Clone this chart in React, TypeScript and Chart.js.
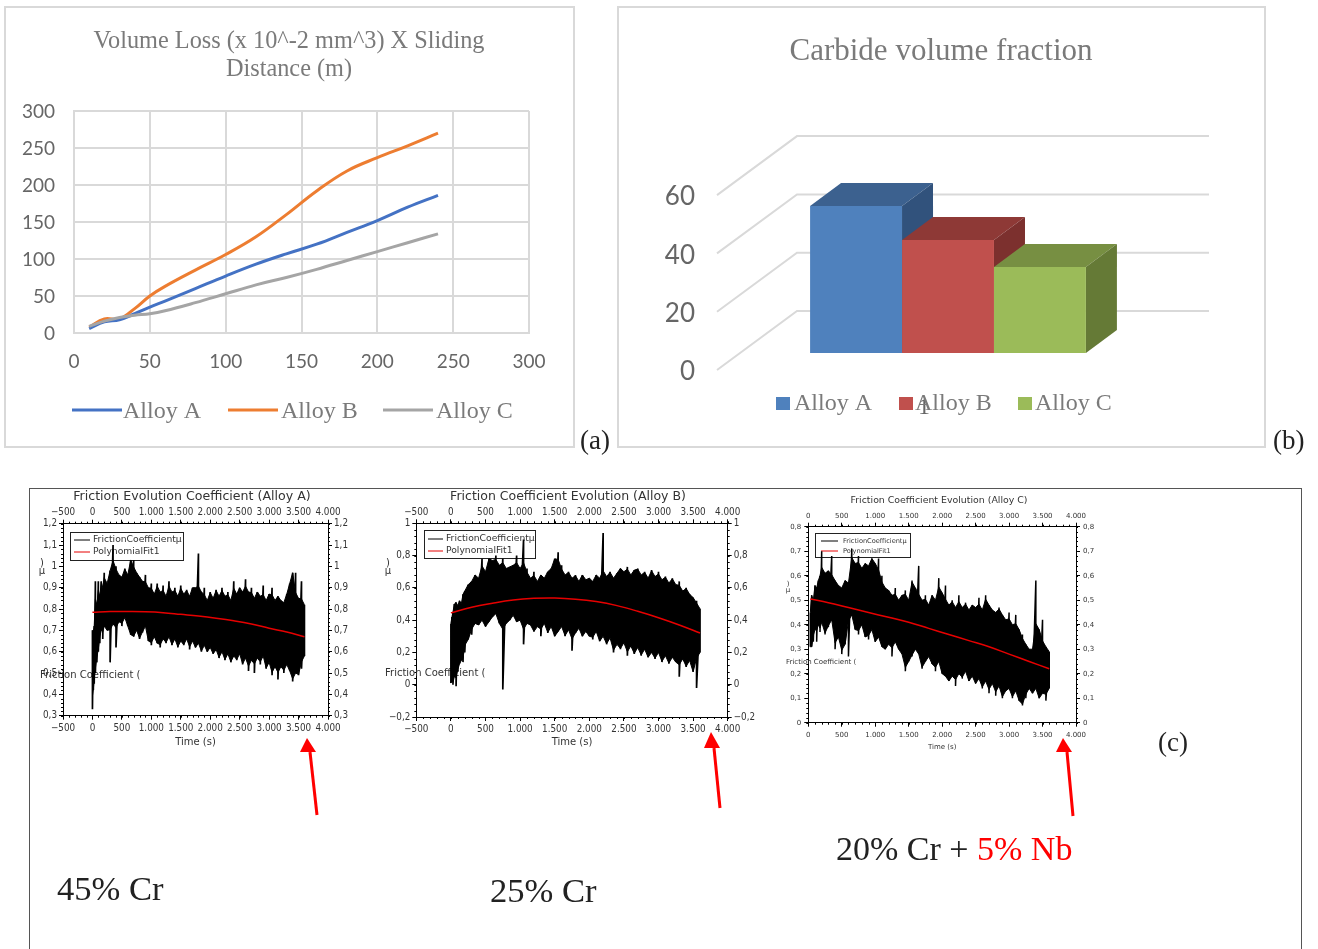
import React, { useEffect, useRef } from "react";
import { Chart, registerables } from "chart.js";
Chart.register(...registerables);

// ---------- (a) volume loss ----------
const distance = [10, 20, 30, 40, 50, 60, 80, 100, 120, 140, 160, 180, 200, 220, 240];
const lossA = [6, 15, 18, 26, 35, 43, 60, 77, 93, 107, 120, 136, 152, 170, 186];
const lossB = [8, 19, 19, 33, 50, 63, 85, 106, 130, 160, 192, 219, 237, 253, 270];
const lossC = [9, 16, 21, 24, 26, 30, 41, 53, 65, 75, 86, 98, 110, 122, 134];

// ---------- (b) carbide fraction ----------
const carbideCategory = ["1"];
const carbideNames = ["Alloy A", "Alloy B", "Alloy C"];
const carbideValues = [50.4, 38.8, 29.5];
const carbideTicks = [0, 20, 40, 60];

// ---------- (c) friction: upper and lower envelope ----------
const frictionTimes = [
  0, 15, 30, 50, 75, 100, 125, 150, 175, 200,
  250, 300, 350, 400, 450, 500, 550, 600, 650, 700,
  750, 800, 850, 900, 950, 1000, 1050, 1100, 1150, 1200,
  1250, 1300, 1350, 1400, 1450, 1500, 1550, 1600, 1650, 1700,
  1750, 1800, 1850, 1900, 1950, 2000, 2050, 2100, 2150, 2200,
  2250, 2300, 2350, 2400, 2450, 2500, 2550, 2600, 2650, 2700,
  2750, 2800, 2850, 2900, 2950, 3000, 3050, 3100, 3150, 3200,
  3250, 3300, 3350, 3400, 3450, 3500, 3550, 3600,
];
const frictionTimesC = [
  30, 50, 75, 100, 125, 150, 175, 200,
  250, 300, 350, 400, 450, 500, 550, 600, 650, 700,
  750, 800, 850, 900, 950, 1000, 1050, 1100, 1150, 1200,
  1250, 1300, 1350, 1400, 1450, 1500, 1550, 1600, 1650, 1700,
  1750, 1800, 1850, 1900, 1950, 2000, 2050, 2100, 2150, 2200,
  2250, 2300, 2350, 2400, 2450, 2500, 2550, 2600, 2650, 2700,
  2750, 2800, 2850, 2900, 2950, 3000, 3050, 3100, 3150, 3200,
  3250, 3300, 3350, 3400, 3450, 3500, 3550, 3600,
];
const highA = [
  .70, .69, .72, .93, .82, .93, .86, .93, .90, .97,
  .92, .98, 1.10, 1.0, .96, .95, .99, .96, 1.03, 1.03,
  .97, .95, .93, .96, .90, .92, .87, .92, .88, .91,
  .86, .93, .88, .90, .86, .91, .87, .89, .86, .90,
  .90, 1.06, .88, .90, .84, .88, .85, .89, .86, .90,
  .86, .88, .84, .93, .87, .90, .88, .94, .88, .90,
  .85, .88, .86, .91, .84, .87, .90, .84, .86, .84,
  .83, .87, .92, .97, .97, .85, .93, .82,
];
const lowA = [
  .33, .42, .45, .50, .55, .60, .64, .70, .66, .72,
  .70, .55, .73, .62, .74, .72, .76, .72, .68, .67,
  .70, .66, .69, .72, .65, .63, .67, .64, .62, .66,
  .64, .67, .63, .66, .62, .65, .63, .66, .61, .65,
  .62, .64, .60, .63, .60, .62, .59, .61, .57, .60,
  .56, .59, .55, .58, .56, .59, .54, .57, .51, .56,
  .50, .57, .54, .58, .52, .55, .49, .53, .47, .53,
  .50, .54, .51, .46, .50, .49, .52, .58,
];
const highB = [
  .38, .42, .45, .50, .51, .49, .52, .50, .56, .58,
  .62, .64, .68, .66, .78, .70, .78, .77, .80, .74,
  .78, .72, .73, .74, .80, .72, .90, .72, .66, .70,
  .64, .68, .66, .70, .72, .78, .82, .74, .68, .70,
  .66, .68, .64, .68, .65, .66, .64, .68, .66, .94,
  .67, .70, .66, .69, .72, .70, .73, .68, .71, .72,
  .68, .70, .66, .71, .67, .70, .65, .67, .63, .66,
  .62, .64, .58, .60, .56, .54, .52, .47,
];
const lowB = [
  .01, .03, .00, .05, -.01, .08, .13, .15, .14, .20,
  .28, .31, .38, .37, .40, .36, .39, .42, .44, .38,
  -.03, .38, .40, .43, .39, .40, .25, .38, .37, .33,
  .36, .30, .38, .32, .36, .30, .33, .36, .30, .34,
  .21, .32, .35, .30, .33, .30, .28, .33, .27, .30,
  .25, .29, .20, .25, .22, .26, .18, .24, .19, .23,
  .18, .22, .17, .20, .16, .20, .14, .18, .13, .17,
  .14, .05, .16, .11, .15, .08, -.02, .20,
];
const highC = [
  .45, .52, .50, .56, .55, .58, .60, .70,
  .61, .62, .68, .58, .56, .55, .58, .57, .71, .65,
  .68, .63, .65, .64, .67, .65, .67, .60, .55, .54,
  .52, .55, .50, .52, .54, .50, .58, .55, .64, .50,
  .52, .48, .52, .50, .59, .53, .56, .48, .50, .47,
  .52, .47, .49, .46, .48, .47, .51, .46, .52, .48,
  .46, .45, .47, .44, .42, .45, .40, .44, .38, .36,
  .32, .30, .30, .58, .38, .42, .31, .29,
];
const lowC = [
  .31, .31, .33, .38, .33, .40, .37, .41,
  .36, .39, .42, .30, .35, .28, .32, .27, .44, .38,
  .36, .40, .35, .34, .38, .33, .35, .31, .30, .32,
  .27, .33, .30, .28, .21, .25, .27, .30, .28, .22,
  .25, .27, .24, .21, .25, .20, .19, .17, .19, .15,
  .20, .18, .21, .17, .19, .16, .18, .14, .17, .12,
  .16, .11, .15, .10, .13, .14, .10, .13, .09, .07,
  .10, .14, .12, .14, .10, .12, .09, .14,
];
const fitTimes = [0, 300, 600, 900, 1200, 1500, 1800, 2100, 2400, 2700, 3000, 3300, 3600];
const fitTimesC = [30, 300, 600, 900, 1200, 1500, 1800, 2100, 2400, 2700, 3000, 3300, 3600];
const fitA = [.785, .788, .788, .787, .783, .775, .767, .757, .745, .73, .71, .692, .67];
const fitB = [.445, .48, .505, .525, .535, .537, .53, .515, .49, .455, .415, .37, .32];
const fitC = [.505, .49, .47, .45, .43, .41, .385, .36, .335, .31, .28, .25, .22];

const SERIF = '"Liberation Serif", serif';
const SANS = '"DejaVu Sans", sans-serif';
const SANS_NARROW = '"DejaVu Sans Condensed", "DejaVu Sans", sans-serif';
const LATO = "Lato, sans-serif";

type ChartBuilder = (c: HTMLCanvasElement) => Chart;

function ChartBox(p: { left: number; top: number; width: number; height: number; blur: number; build: ChartBuilder }) {
  const ref = useRef<HTMLCanvasElement>(null);
  useEffect(() => {
    const chart = p.build(ref.current!);
    return () => chart.destroy();
  }, []);
  return (
    <canvas
      ref={ref}
      width={p.width}
      height={p.height}
      style={{ position: "absolute", left: p.left, top: p.top, width: p.width, height: p.height, filter: `blur(${p.blur}px)` }}
    />
  );
}

const ghostAxis = (w: number) => ({
  axis: "y", position: "right",
  ticks: { display: false }, grid: { display: false }, border: { display: false },
  afterFit: (s: any) => { s.width = w; },
});

// ---------- (a) ----------
const A_BOX = { left: 5, top: 7, width: 568, height: 439 };
function buildLoss(canvas: HTMLCanvasElement) {
  const toPairs = (ys: number[]) => distance.map((x, i) => ({ x, y: ys[i] }));
  const legendItems = [
    { label: "Alloy A", color: "#4472c4", from: 72, to: 122, text: 123 },
    { label: "Alloy B", color: "#ed7d31", from: 228, to: 278, text: 281 },
    { label: "Alloy C", color: "#a5a5a5", from: 383, to: 433, text: 436 },
  ];
  const mkSet = (label: string, ys: number[], color: string) => ({
    label, data: toPairs(ys), borderColor: color, borderWidth: 3, pointRadius: 0, tension: 0.4, fill: false,
  });
  return new Chart(canvas, {
    type: "line",
    data: { datasets: [mkSet("Alloy C", lossC, "#a5a5a5"), mkSet("Alloy A", lossA, "#4472c4"), mkSet("Alloy B", lossB, "#ed7d31")] },
    options: {
      responsive: false, animation: false,
      layout: { padding: 0 },
      plugins: {
        legend: { display: false }, tooltip: { enabled: false },
        title: {
          display: true, text: ["Volume Loss (x 10^-2 mm^3) X Sliding", "Distance (m)"], color: "#7a7a7a",
          font: { family: SERIF, size: 24.3, weight: "normal", lineHeight: 28 / 24.3 }, padding: { top: 21, bottom: 27 },
        },
      },
      scales: {
        x: {
          type: "linear", min: 0, max: 300,
          ticks: { stepSize: 50, color: "#666", font: { family: LATO, size: 19 }, padding: 17, maxRotation: 0 },
          grid: { color: "#d9d9d9", lineWidth: 2, drawTicks: false },
          border: { color: "#d9d9d9", width: 2 },
          afterFit: (s: any) => { s.height = 113; },
        },
        y: {
          min: 0, max: 300,
          ticks: { stepSize: 50, color: "#666", font: { family: LATO, size: 19 }, padding: 19, labelOffset: 1 },
          grid: { color: "#d9d9d9", lineWidth: 2, drawTicks: false },
          border: { color: "#d9d9d9", width: 2 },
          afterFit: (s: any) => { s.width = 69; },
        },
        yGhost: ghostAxis(44),
      },
    },
    plugins: [{
      id: "lossLegend",
      afterDraw(chart: any) {
        const c = chart.ctx;
        c.save();
        legendItems.forEach((it) => {
          c.strokeStyle = it.color; c.lineWidth = 3;
          c.beginPath(); c.moveTo(it.from - A_BOX.left, 410 - A_BOX.top); c.lineTo(it.to - A_BOX.left, 410 - A_BOX.top); c.stroke();
          c.fillStyle = "#7a7a7a"; c.font = `24px ${SERIF}`; c.textBaseline = "middle";
          c.fillText(it.label, it.text - A_BOX.left, 411.5 - A_BOX.top);
        });
        c.restore();
      },
    }],
  } as any);
}

// ---------- (b) ----------
const B_BOX = { left: 618, top: 7, width: 646, height: 439 };
const barFaces = [
  { front: "#4f81bd", top: "#3c618f", side: "#31527c" },
  { front: "#c0504d", top: "#8e3936", side: "#7c302e" },
  { front: "#9bbb59", top: "#778f42", side: "#657a36" },
];
function buildCarbide(canvas: HTMLCanvasElement) {
  const depthX = 31, depthY = -23;
  const wallX = 80, wallY = -59, wallEnd = 1209 - B_BOX.left;
  const legendItems = [
    { box: 776, text: 794 }, { box: 899, text: 915 }, { box: 1018, text: 1035 },
  ];
  return new Chart(canvas, {
    type: "bar",
    data: {
      labels: carbideCategory,
      datasets: carbideNames.map((name, i) => ({
        label: name, data: [carbideValues[i]], backgroundColor: barFaces[i].front,
        yAxisID: "yBar", barPercentage: 1, categoryPercentage: 0.597, borderWidth: 0,
      })),
    },
    options: {
      responsive: false, animation: false,
      layout: { padding: 0 },
      plugins: {
        legend: { display: false }, tooltip: { enabled: false },
        title: {
          display: true, text: "Carbide volume fraction", color: "#7a7a7a",
          font: { family: SERIF, size: 31, weight: "normal", lineHeight: 37 / 31 }, padding: { top: 26, bottom: 66.8 },
        },
      },
      scales: {
        x: {
          ticks: { color: "#666", font: { family: SERIF, size: 24 }, padding: 15, labelOffset: -24 },
          grid: { display: false }, border: { display: false },
          afterFit: (s: any) => { s.height = 76; },
        },
        yLabel: {
          type: "linear", axis: "y", position: "left", min: 0, max: 80,
          ticks: { autoSkip: false, color: "#666", font: { family: LATO, size: 26 }, padding: 14, labelOffset: 2 },
          afterBuildTicks: (s: any) => { s.ticks = carbideTicks.map((value) => ({ value })); },
          grid: { display: false }, border: { display: false },
          afterFit: (s: any) => { s.width = 99; },
        },
        yBar: { type: "linear", axis: "y", display: false, min: -5.83, max: 74.17 },
        yGhost: ghostAxis(85),
      },
    },
    plugins: [{
      id: "depth",
      beforeDatasetsDraw(chart: any) {
        const c = chart.ctx;
        const scale = chart.scales.yLabel;
        const left = chart.chartArea.left;
        c.save();
        c.strokeStyle = "#d9d9d9"; c.lineWidth = 2;
        carbideTicks.forEach((v) => {
          const py = scale.getPixelForValue(v);
          c.beginPath(); c.moveTo(left, py); c.lineTo(left + wallX, py + wallY); c.lineTo(wallEnd, py + wallY); c.stroke();
        });
        carbideNames.forEach((_, i) => {
          const bar = chart.getDatasetMeta(i).data[0];
          const half = bar.width / 2, l = bar.x - half, r = bar.x + half, t = bar.y, b = bar.base;
          c.fillStyle = barFaces[i].top;
          c.beginPath(); c.moveTo(l, t); c.lineTo(r, t); c.lineTo(r + depthX, t + depthY); c.lineTo(l + depthX, t + depthY); c.closePath(); c.fill();
          c.fillStyle = barFaces[i].side;
          c.beginPath(); c.moveTo(r, t); c.lineTo(r + depthX, t + depthY); c.lineTo(r + depthX, b + depthY); c.lineTo(r, b); c.closePath(); c.fill();
        });
        c.restore();
      },
      afterDraw(chart: any) {
        const c = chart.ctx;
        c.save();
        legendItems.forEach((it, i) => {
          c.fillStyle = barFaces[i].front;
          c.fillRect(it.box - B_BOX.left, 397 - B_BOX.top, 14, 13);
          c.fillStyle = "#7a7a7a"; c.font = `24px ${SERIF}`; c.textBaseline = "middle";
          c.fillText(carbideNames[i], it.text - B_BOX.left, 404 - B_BOX.top);
        });
        c.restore();
      },
    }],
  } as any);
}

// ---------- (c) ----------
const fmtX = (v: number) => {
  const a = Math.abs(v);
  const s = a >= 1000 ? `${Math.floor(a / 1000)}.${String(a % 1000).padStart(3, "0")}` : String(a);
  return v < 0 ? "\u2212" + s : s;
};
const fmtY = (v: number) => {
  const s = String(Number(Math.abs(v).toFixed(1))).replace(".", ",");
  return v < -0.001 ? "\u2212" + s : s;
};

type FrictionCfg = {
  box: { left: number; top: number; width: number; height: number };
  title: string; titleFont: number; titleLine: number; titleTop: number; titleBottom: number;
  tickFamily: string; tickFont: number; tickPad: number; traceWidth: number; solidReach: number;
  xMin: number; yMin: number; yMax: number; yStep: number; yMinor: number;
  leftW: number; rightW: number; topH: number; bottomH: number; timePad: number; timeFont: number;
  times: number[]; high: number[]; low: number[]; fitT: number[]; fit: number[];
  legend: { x0: number; x1: number; y0: number; y1: number; sample0: number; sample1: number; text: number; row1: number; row2: number; font: number };
  side: { x: number; y: number; font: number };
  mu: { x: number; y1: number; y2: number; font: number };
};

// solid part of a noisy trace: it follows the nearer of a point and its neighbour, and reaches a little past it
const solidTopOf = (vals: number[], reach: number) =>
  vals.map((v, i) => Math.min(v, Math.min(v, vals[Math.min(i + 1, vals.length - 1)]) + reach));
const solidBottomOf = (vals: number[], reach: number) =>
  vals.map((v, i) => Math.max(v, Math.max(v, vals[Math.min(i + 1, vals.length - 1)]) - reach));

function buildFriction(cfg: FrictionCfg) {
  return (canvas: HTMLCanvasElement) => {
    const trace = cfg.times.flatMap((t, i) => [{ x: t, y: cfg.high[i] }, { x: t, y: cfg.low[i] }]);
    const fitData = cfg.fitT.map((x, i) => ({ x, y: cfg.fit[i] }));
    const solidTop = solidTopOf(cfg.high, cfg.solidReach).map((y, i) => ({ x: cfg.times[i], y }));
    const solidBottom = solidBottomOf(cfg.low, cfg.solidReach).map((y, i) => ({ x: cfg.times[i], y }));
    const tickCommon = { color: "#333", font: { family: cfg.tickFamily, size: cfg.tickFont }, maxRotation: 0, autoSkip: false };
    const frame = { drawOnChartArea: false, tickLength: 4, tickColor: "#000", tickWidth: 1 };
    const bd = { color: "#000", width: 1, display: true };
    const xOpts = { type: "linear", min: cfg.xMin, max: 4000, grid: frame, border: bd };
    const xTicks = { ...tickCommon, stepSize: 500, callback: (v: number) => fmtX(v) };
    const yOpts = {
      type: "linear", min: cfg.yMin, max: cfg.yMax,
      ticks: { ...tickCommon, padding: cfg.tickPad, stepSize: cfg.yStep, callback: (v: number) => fmtY(v) },
      grid: frame, border: bd,
    };
    const ox = cfg.box.left, oy = cfg.box.top;
    return new Chart(canvas, {
      type: "line",
      data: {
        datasets: [
          { label: "PolynomialFit1", data: fitData, borderColor: "#e60000", borderWidth: 1.5, pointRadius: 0, tension: 0.4 },
          { label: "FrictionCoefficient\u00b5", data: trace, borderColor: "#000", borderWidth: cfg.traceWidth, pointRadius: 0, tension: 0 },
          { label: "solidTop", data: solidTop, borderColor: "#000", borderWidth: 1, pointRadius: 0, tension: 0, fill: "+1", backgroundColor: "#000" },
          { label: "solidBottom", data: solidBottom, borderColor: "#000", borderWidth: 1, pointRadius: 0, tension: 0 },
        ],
      },
      options: {
        responsive: false, animation: false,
        layout: { padding: 0 },
        plugins: {
          legend: { display: false }, tooltip: { enabled: false },
          title: {
            display: true, text: cfg.title, color: "#333",
            font: { family: SANS, size: cfg.titleFont, weight: "normal", lineHeight: cfg.titleLine / cfg.titleFont },
            padding: { top: cfg.titleTop, bottom: cfg.titleBottom },
          },
        },
        scales: {
          x: {
            ...xOpts, position: "bottom", ticks: { ...xTicks, padding: cfg.tickPad + 1 },
            title: { display: true, text: "Time (s)", color: "#333", font: { family: SANS, size: cfg.timeFont }, padding: { top: 0, bottom: cfg.timePad } },
            afterFit: (s: any) => { s.height = cfg.bottomH; },
          },
          xTop: { ...xOpts, axis: "x", position: "top", ticks: { ...xTicks, padding: cfg.tickPad - 1 }, afterFit: (s: any) => { s.height = cfg.topH; } },
          y: { ...yOpts, position: "left", afterFit: (s: any) => { s.width = cfg.leftW; } },
          yRight: { ...yOpts, axis: "y", position: "right", afterFit: (s: any) => { s.width = cfg.rightW; } },
        },
      },
      plugins: [{
        id: "frictionExtras",
        beforeDatasetsDraw(chart: any) {
          const c = chart.ctx;
          const { x, xTop, y, yRight } = chart.scales;
          c.save();
          c.strokeStyle = "#000"; c.lineWidth = 1;
          const minorLen = 2;
          const xn = Math.round((4000 - cfg.xMin) / 100);
          for (let i = 0; i <= xn; i++) {
            const v = cfg.xMin + i * 100;
            const px = Math.round(x.getPixelForValue(v)) + 0.5;
            c.beginPath(); c.moveTo(px, x.top); c.lineTo(px, x.top + minorLen);
            c.moveTo(px, xTop.bottom); c.lineTo(px, xTop.bottom - minorLen); c.stroke();
          }
          const yn = Math.round((cfg.yMax - cfg.yMin) / cfg.yMinor);
          for (let i = 0; i <= yn; i++) {
            const v = cfg.yMin + i * cfg.yMinor;
            const py = Math.round(y.getPixelForValue(v)) + 0.5;
            c.beginPath(); c.moveTo(y.right, py); c.lineTo(y.right - minorLen, py);
            c.moveTo(yRight.left, py); c.lineTo(yRight.left + minorLen, py); c.stroke();
          }
          const L = cfg.legend;
          c.strokeStyle = "#222"; c.lineWidth = 1;
          c.strokeRect(L.x0 - ox + 0.5, L.y0 - oy + 0.5, L.x1 - L.x0, L.y1 - L.y0);
          c.strokeStyle = "#000";
          c.beginPath(); c.moveTo(L.sample0 - ox, L.row1 - oy); c.lineTo(L.sample1 - ox, L.row1 - oy); c.stroke();
          c.strokeStyle = "#e60000";
          c.beginPath(); c.moveTo(L.sample0 - ox, L.row2 - oy); c.lineTo(L.sample1 - ox, L.row2 - oy); c.stroke();
          c.fillStyle = "#333"; c.textBaseline = "middle"; c.textAlign = "left";
          c.font = `${L.font}px ${SANS}`;
          c.fillText("FrictionCoefficient\u00b5", L.text - ox, L.row1 - oy);
          c.fillText("PolynomialFit1", L.text - ox, L.row2 - oy);
          c.font = `${cfg.side.font}px ${SANS}`;
          c.fillText("Friction Coefficient (", cfg.side.x - ox, cfg.side.y - oy);
          c.font = `${cfg.mu.font}px ${SANS}`;
          c.textAlign = "center";
          c.fillText(")", cfg.mu.x - ox, cfg.mu.y1 - oy);
          c.fillText("\u00b5", cfg.mu.x - ox, cfg.mu.y2 - oy);
          c.restore();
        },
      }],
    } as any);
  };
}

const cfgA: FrictionCfg = {
  box: { left: 30, top: 489, width: 324, height: 263 },
  title: "Friction Evolution Coefficient (Alloy A)", titleFont: 12.6, titleLine: 14, titleTop: 1, titleBottom: 2,
  tickFamily: SANS_NARROW, tickFont: 9.8, tickPad: 2, traceWidth: 1.7, solidReach: 0.027, xMin: -500, yMin: 0.3, yMax: 1.2, yStep: 0.1, yMinor: 0.02,
  leftW: 33, rightW: 26, topH: 17.7, bottomH: 36.3, timePad: 4, timeFont: 10,
  times: frictionTimes, high: highA, low: lowA, fitT: fitTimes, fit: fitA,
  legend: { x0: 70, x1: 183, y0: 532, y1: 560, sample0: 74, sample1: 90, text: 93, row1: 540, row2: 552, font: 9.2 },
  side: { x: 40, y: 675, font: 10 },
  mu: { x: 42, y1: 563, y2: 571, font: 10 },
};
const cfgB: FrictionCfg = {
  box: { left: 375, top: 489, width: 386, height: 263 },
  title: "Friction Coefficient Evolution (Alloy B)", titleFont: 12.5, titleLine: 14, titleTop: 1, titleBottom: 1,
  tickFamily: SANS_NARROW, tickFont: 9.8, tickPad: 2, traceWidth: 1.7, solidReach: 0.036, xMin: -500, yMin: -0.2, yMax: 1, yStep: 0.2, yMinor: 0.04,
  leftW: 41.3, rightW: 33.3, topH: 18.3, bottomH: 35, timePad: 4, timeFont: 10,
  times: frictionTimes, high: highB, low: lowB, fitT: fitTimes, fit: fitB,
  legend: { x0: 424, x1: 535, y0: 530, y1: 558, sample0: 428, sample1: 443, text: 446, row1: 539, row2: 551, font: 9.2 },
  side: { x: 385, y: 673, font: 10 },
  mu: { x: 388, y1: 563, y2: 571, font: 10 },
};
const cfgC: FrictionCfg = {
  box: { left: 770, top: 489, width: 338, height: 263 },
  title: "Friction Coefficient Evolution (Alloy C)", titleFont: 9.4, titleLine: 12, titleTop: 6, titleBottom: 0,
  tickFamily: SANS, tickFont: 7, tickPad: 3, traceWidth: 1.5, solidReach: 0.024, xMin: 0, yMin: 0, yMax: 0.8, yStep: 0.1, yMinor: 0.02,
  leftW: 38.3, rightW: 32, topH: 19.7, bottomH: 29.3, timePad: 1, timeFont: 7,
  times: frictionTimesC, high: highC, low: lowC, fitT: fitTimesC, fit: fitC,
  legend: { x0: 815, x1: 910, y0: 533, y1: 557, sample0: 821, sample1: 838, text: 843, row1: 541, row2: 551, font: 6.6 },
  side: { x: 786, y: 662, font: 7 },
  mu: { x: 788, y1: 584, y2: 590, font: 7 },
};

// ---------- annotations ----------
const arrows = [
  { tail: [317, 815], neck: [310, 752], tip: [307, 738], l: [300, 752], r: [316, 752] },
  { tail: [720, 808], neck: [714, 748], tip: [711, 732], l: [704, 748], r: [720, 748] },
  { tail: [1073, 816], neck: [1067, 752], tip: [1063, 738], l: [1056, 752], r: [1072, 752] },
];
const captions = [
  { text: "(a)", x: 580, y: 425, size: 27 },
  { text: "(b)", x: 1273, y: 425, size: 27 },
  { text: "(c)", x: 1158, y: 727, size: 27 },
  { text: "45% Cr", x: 57, y: 873, size: 34.6 },
  { text: "25% Cr", x: 490, y: 875, size: 34.6 },
];

export default function App() {
  const abs = (o: any): React.CSSProperties => ({ position: "absolute", ...o });
  return (
    <div style={abs({ left: 0, top: 0, width: 1318, height: 949, overflow: "hidden", background: "#fff" })}>
      <div style={abs({ left: 4, top: 6, width: 567, height: 438, border: "2px solid #d9d9d9" })} />
      <div style={abs({ left: 617, top: 6, width: 645, height: 438, border: "2px solid #d9d9d9" })} />
      <div style={abs({ left: 29, top: 488, width: 1271, height: 470, border: "1px solid #555" })} />
      <ChartBox {...A_BOX} blur={0.5} build={buildLoss} />
      <ChartBox {...B_BOX} blur={0.5} build={buildCarbide} />
      <ChartBox {...cfgA.box} blur={0.35} build={buildFriction(cfgA)} />
      <ChartBox {...cfgB.box} blur={0.35} build={buildFriction(cfgB)} />
      <ChartBox {...cfgC.box} blur={0.35} build={buildFriction(cfgC)} />
      <svg width={1318} height={949} style={abs({ left: 0, top: 0 })}>
        {arrows.map((a, i) => (
          <g key={i}>
            <line x1={a.tail[0]} y1={a.tail[1]} x2={a.neck[0]} y2={a.neck[1]} stroke="#ff0000" strokeWidth={3} />
            <polygon points={`${a.tip.join(",")} ${a.l.join(",")} ${a.r.join(",")}`} fill="#ff0000" />
          </g>
        ))}
      </svg>
      {captions.map((c) => (
        <div key={c.text} style={abs({ left: c.x, top: c.y, fontFamily: SERIF, fontSize: c.size, lineHeight: "30px", color: "#222", whiteSpace: "nowrap" })}>{c.text}</div>
      ))}
      <div style={abs({ left: 836, top: 831, fontFamily: SERIF, fontSize: 34, lineHeight: "36px", color: "#222", whiteSpace: "nowrap" })}>
        20% Cr + <span style={{ color: "#ff0000" }}>5% Nb</span>
      </div>
    </div>
  );
}
